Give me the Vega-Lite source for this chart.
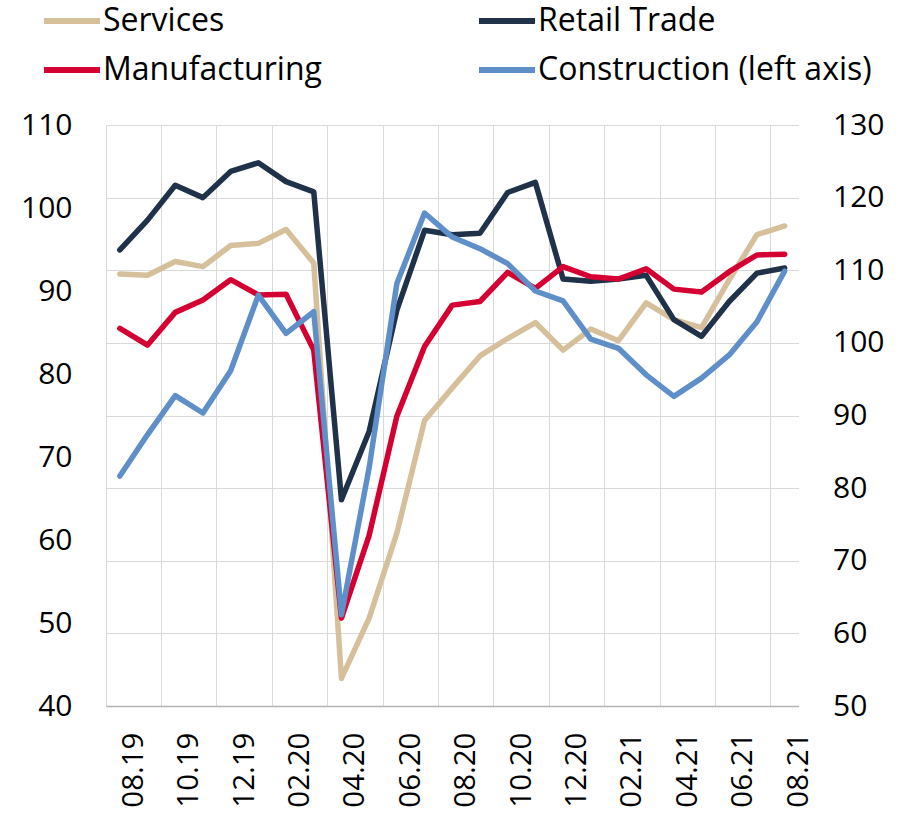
{
  "$schema": "https://vega.github.io/schema/vega-lite/v6.json",
  "width": 692.5,
  "height": 581,
  "autosize": {"type": "none"},
  "padding": {"left": 106, "top": 125, "right": 118.5, "bottom": 107},
  "background": "white",
  "config": {
    "font": "Open Sans",
    "view": {"stroke": null},
    "axis": {"labelFont": "Open Sans", "labelFontSize": 30, "labelColor": "#000000", "ticks": false, "domain": false, "title": null, "labelOverlap": false, "gridColor": "#d9d9d9", "gridWidth": 1}
  },
  "data": {"values": [
    {"m":"08.19","s":"Services","v":109.5},{"m":"09.19","s":"Services","v":109.3},{"m":"10.19","s":"Services","v":111.2},{"m":"11.19","s":"Services","v":110.5},{"m":"12.19","s":"Services","v":113.4},{"m":"01.20","s":"Services","v":113.7},{"m":"02.20","s":"Services","v":115.6},{"m":"03.20","s":"Services","v":111.0},{"m":"04.20","s":"Services","v":53.8},{"m":"05.20","s":"Services","v":62.1},{"m":"06.20","s":"Services","v":73.8},{"m":"07.20","s":"Services","v":89.3},{"m":"08.20","s":"Services","v":93.8},{"m":"09.20","s":"Services","v":98.2},{"m":"10.20","s":"Services","v":100.6},{"m":"11.20","s":"Services","v":102.8},{"m":"12.20","s":"Services","v":99.0},{"m":"01.21","s":"Services","v":101.9},{"m":"02.21","s":"Services","v":100.3},{"m":"03.21","s":"Services","v":105.5},{"m":"04.21","s":"Services","v":103.2},{"m":"05.21","s":"Services","v":102.1},{"m":"06.21","s":"Services","v":108.7},{"m":"07.21","s":"Services","v":114.9},{"m":"08.21","s":"Services","v":116.1},
    {"m":"08.19","s":"Retail Trade","v":112.8},{"m":"09.19","s":"Retail Trade","v":116.9},{"m":"10.19","s":"Retail Trade","v":121.7},{"m":"11.19","s":"Retail Trade","v":120.0},{"m":"12.19","s":"Retail Trade","v":123.6},{"m":"01.20","s":"Retail Trade","v":124.8},{"m":"02.20","s":"Retail Trade","v":122.2},{"m":"03.20","s":"Retail Trade","v":120.8},{"m":"04.20","s":"Retail Trade","v":78.4},{"m":"05.20","s":"Retail Trade","v":87.8},{"m":"06.20","s":"Retail Trade","v":104.5},{"m":"07.20","s":"Retail Trade","v":115.5},{"m":"08.20","s":"Retail Trade","v":114.9},{"m":"09.20","s":"Retail Trade","v":115.1},{"m":"10.20","s":"Retail Trade","v":120.7},{"m":"11.20","s":"Retail Trade","v":122.1},{"m":"12.20","s":"Retail Trade","v":108.8},{"m":"01.21","s":"Retail Trade","v":108.5},{"m":"02.21","s":"Retail Trade","v":108.8},{"m":"03.21","s":"Retail Trade","v":109.3},{"m":"04.21","s":"Retail Trade","v":103.2},{"m":"05.21","s":"Retail Trade","v":100.9},{"m":"06.21","s":"Retail Trade","v":105.7},{"m":"07.21","s":"Retail Trade","v":109.6},{"m":"08.21","s":"Retail Trade","v":110.3},
    {"m":"08.19","s":"Manufacturing","v":102.0},{"m":"09.19","s":"Manufacturing","v":99.7},{"m":"10.19","s":"Manufacturing","v":104.2},{"m":"11.19","s":"Manufacturing","v":105.9},{"m":"12.19","s":"Manufacturing","v":108.7},{"m":"01.20","s":"Manufacturing","v":106.6},{"m":"02.20","s":"Manufacturing","v":106.7},{"m":"03.20","s":"Manufacturing","v":99.0},{"m":"04.20","s":"Manufacturing","v":62.1},{"m":"05.20","s":"Manufacturing","v":73.5},{"m":"06.20","s":"Manufacturing","v":89.9},{"m":"07.20","s":"Manufacturing","v":99.5},{"m":"08.20","s":"Manufacturing","v":105.2},{"m":"09.20","s":"Manufacturing","v":105.7},{"m":"10.20","s":"Manufacturing","v":109.7},{"m":"11.20","s":"Manufacturing","v":107.5},{"m":"12.20","s":"Manufacturing","v":110.5},{"m":"01.21","s":"Manufacturing","v":109.1},{"m":"02.21","s":"Manufacturing","v":108.8},{"m":"03.21","s":"Manufacturing","v":110.2},{"m":"04.21","s":"Manufacturing","v":107.4},{"m":"05.21","s":"Manufacturing","v":107.0},{"m":"06.21","s":"Manufacturing","v":109.8},{"m":"07.21","s":"Manufacturing","v":112.1},{"m":"08.21","s":"Manufacturing","v":112.2},
    {"m":"08.19","s":"Construction (left axis)","v":67.7},{"m":"09.19","s":"Construction (left axis)","v":72.7},{"m":"10.19","s":"Construction (left axis)","v":77.4},{"m":"11.19","s":"Construction (left axis)","v":75.3},{"m":"12.19","s":"Construction (left axis)","v":80.4},{"m":"01.20","s":"Construction (left axis)","v":89.5},{"m":"02.20","s":"Construction (left axis)","v":84.9},{"m":"03.20","s":"Construction (left axis)","v":87.5},{"m":"04.20","s":"Construction (left axis)","v":51.0},{"m":"05.20","s":"Construction (left axis)","v":68.7},{"m":"06.20","s":"Construction (left axis)","v":90.9},{"m":"07.20","s":"Construction (left axis)","v":99.4},{"m":"08.20","s":"Construction (left axis)","v":96.5},{"m":"09.20","s":"Construction (left axis)","v":95.1},{"m":"10.20","s":"Construction (left axis)","v":93.3},{"m":"11.20","s":"Construction (left axis)","v":90.0},{"m":"12.20","s":"Construction (left axis)","v":88.8},{"m":"01.21","s":"Construction (left axis)","v":84.2},{"m":"02.21","s":"Construction (left axis)","v":83.1},{"m":"03.21","s":"Construction (left axis)","v":79.9},{"m":"04.21","s":"Construction (left axis)","v":77.3},{"m":"05.21","s":"Construction (left axis)","v":79.5},{"m":"06.21","s":"Construction (left axis)","v":82.3},{"m":"07.21","s":"Construction (left axis)","v":86.3},{"m":"08.21","s":"Construction (left axis)","v":92.4}
  ]},
  "encoding": {
    "x": {
      "field": "m", "type": "ordinal", "sort": null,
      "scale": {"type": "band", "paddingInner": 0, "paddingOuter": 0},
      "axis": {
        "values": ["08.19","10.19","12.19","02.20","04.20","06.20","08.20","10.20","12.20","02.21","04.21","06.21","08.21"],
        "labelAngle": -90, "labelAlign": "right", "labelBaseline": "middle", "labelFontSize": 29.5,
        "bandPosition": 0, "labelOffset": 13.85, "labelPadding": 26,
        "grid": true, "domain": true, "domainColor": "#b3b3b3", "domainWidth": 1.5
      }
    },
    "color": {
      "field": "s", "type": "nominal",
      "scale": {
        "domain": ["Services", "Retail Trade", "Manufacturing", "Construction (left axis)"],
        "range": ["#D6C09C", "#1F3249", "#D50032", "#5F8FC9"]
      },
      "legend": {
        "orient": "none", "legendX": -65, "legendY": -135, "columns": 2, "direction": "horizontal", "title": null,
        "labelFont": "Open Sans", "labelFontSize": 32, "labelColor": "#000000", "labelLimit": 0,
        "symbolType": "stroke", "symbolSize": 3136, "symbolStrokeWidth": 6, "labelOffset": 0,
        "columnPadding": 145, "rowPadding": 2, "padding": 0
      }
    }
  },
  "layer": [
    {
      "encoding": {
        "y": {
          "field": "v", "type": "quantitative",
          "scale": {"domain": [50, 130], "zero": false},
          "axis": {"orient": "right", "values": [50, 60, 70, 80, 90, 100, 110, 120, 130], "grid": true, "labelPadding": 34}
        }
      },
      "layer": [
        {"transform": [{"filter": "datum.s === 'Services'"}], "mark": {"type": "line", "strokeWidth": 5.5, "strokeCap": "round", "strokeJoin": "round"}},
        {"transform": [{"filter": "datum.s === 'Retail Trade'"}], "mark": {"type": "line", "strokeWidth": 5.5, "strokeCap": "round", "strokeJoin": "round"}},
        {"transform": [{"filter": "datum.s === 'Manufacturing'"}], "mark": {"type": "line", "strokeWidth": 5.5, "strokeCap": "round", "strokeJoin": "round"}}
      ]
    },
    {
      "transform": [{"filter": "datum.s === 'Construction (left axis)'"}],
      "mark": {"type": "line", "strokeWidth": 5.5, "strokeCap": "round", "strokeJoin": "round"},
      "encoding": {
        "y": {
          "field": "v", "type": "quantitative",
          "scale": {"domain": [40, 110], "zero": false},
          "axis": {"orient": "left", "values": [40, 50, 60, 70, 80, 90, 100, 110], "grid": false, "labelPadding": 34}
        }
      }
    }
  ],
  "resolve": {"scale": {"y": "independent"}}
}
